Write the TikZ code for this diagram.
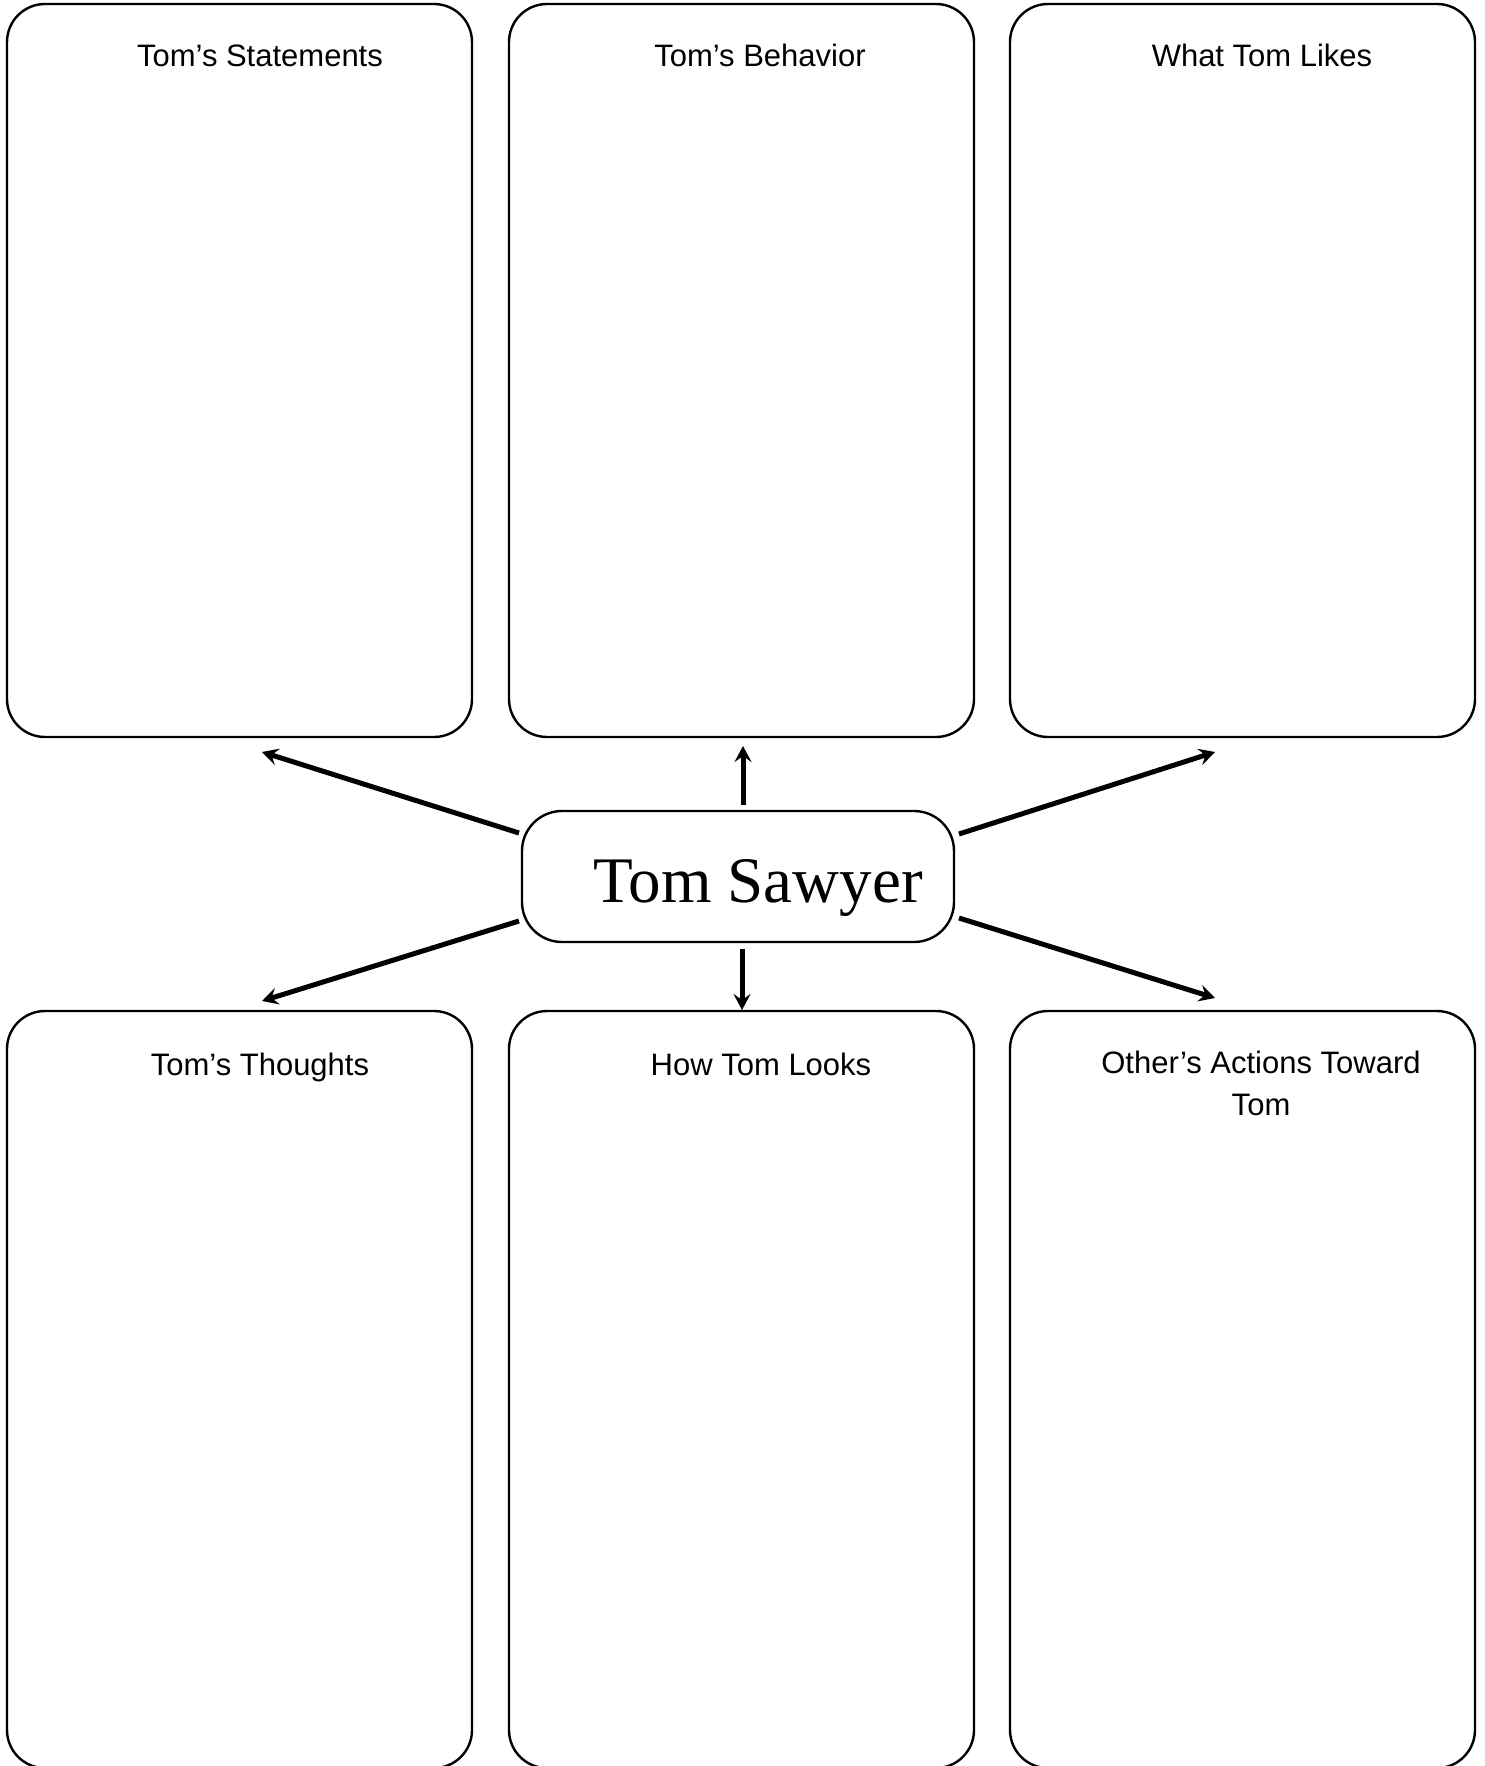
\documentclass[tikz,border=0pt]{standalone}
\usepackage{fontspec}
\setmainfont{Liberation Sans}
\newfontfamily\serifface{Liberation Serif}
\usetikzlibrary{arrows.meta}
\begin{document}
\begin{tikzpicture}[x=0.5pt,y=-0.5pt,
  panel/.style={draw=black,line width=1.2pt,rounded corners=19pt,minimum width=232.5pt,inner sep=0pt},
  toprow/.style={panel,minimum height=366.5pt},
  botrow/.style={panel,minimum height=378.5pt},
  hub/.style={draw=black,line width=1.2pt,rounded corners=20pt,minimum width=216pt,minimum height=65.5pt,inner sep=0pt},
  label/.style={anchor=base,inner sep=0pt,font=\fontsize{15.5}{21}\selectfont,align=center},
  link/.style={line width=2.5pt,-{Stealth[length=8pt,width=8.5pt,inset=3pt]}}]
\useasboundingbox[fill=white] (0,0) rectangle (1484,1766);
% panels
\node[toprow] (s1) at (239.5,370.5) {};
\node[toprow] (s2) at (741.5,370.5) {};
\node[toprow] (s3) at (1242.5,370.5) {};
\node[botrow] (b1) at (239.5,1389.5) {};
\node[botrow] (b2) at (741.5,1389.5) {};
\node[botrow] (b3) at (1242.5,1389.5) {};
% hub
\node[hub] (hub) at (738,876.5) {};
\node[anchor=base,inner sep=0pt,font=\serifface\fontsize{32.5}{36}\selectfont] (hubtext) at (758,902) {Tom Sawyer};
% labels
\node[label] (l1) at (260,67) {Tom’s Statements};
\node[label] (l2) at (760,67) {Tom’s Behavior};
\node[label] (l3) at (1262,67) {What Tom Likes};
\node[label] (l4) at (260,1075) {Tom’s Thoughts};
\node[label] (l5) at (761,1075) {How Tom Looks};
\node[label] (l6) at (1261,1115) {Other’s Actions Toward\\Tom};
% arrow endpoints
\coordinate (uS) at (743,805);  \coordinate (uT) at (743,746);
\coordinate (dS) at (742,949);  \coordinate (dT) at (742,1010);
\coordinate (ulS) at (519,833); \coordinate (ulT) at (262,752);
\coordinate (urS) at (959,834); \coordinate (urT) at (1215,752);
\coordinate (llS) at (519,921); \coordinate (llT) at (262,1001);
\coordinate (lrS) at (959,918); \coordinate (lrT) at (1215,998);
\draw[link] (uS) -- (uT);
\draw[link] (dS) -- (dT);
\draw[link] (ulS) -- (ulT);
\draw[link] (urS) -- (urT);
\draw[link] (llS) -- (llT);
\draw[link] (lrS) -- (lrT);
\end{tikzpicture}
\end{document}
